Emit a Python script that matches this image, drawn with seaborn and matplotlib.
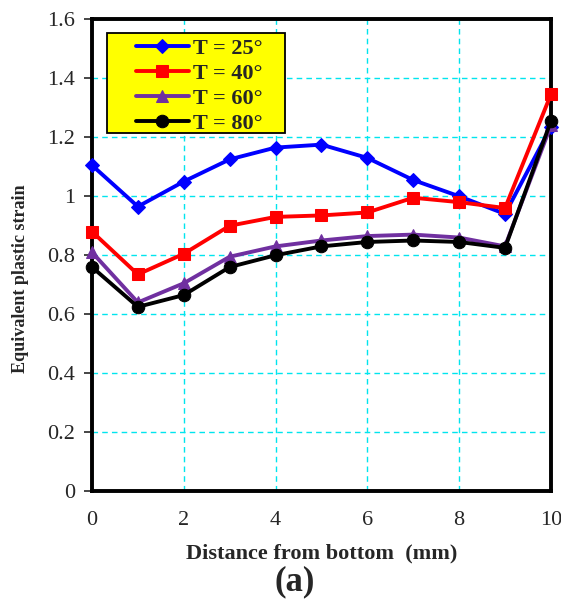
import numpy as np
import pandas as pd
import matplotlib
matplotlib.use("Agg")
import matplotlib.pyplot as plt
from matplotlib.patches import Rectangle
import seaborn as sns

distance = [0, 1, 2, 3, 4, 5, 6, 7, 8, 9, 10]
t25 = [1.105, 0.965, 1.05, 1.125, 1.165, 1.175, 1.13, 1.055, 1.0, 0.94, 1.235]
t40 = [0.88, 0.735, 0.805, 0.9, 0.93, 0.935, 0.945, 0.995, 0.98, 0.96, 1.345]
t60 = [0.81, 0.64, 0.705, 0.795, 0.83, 0.85, 0.865, 0.87, 0.86, 0.83, 1.24]
t80 = [0.76, 0.625, 0.665, 0.76, 0.80, 0.83, 0.845, 0.85, 0.845, 0.825, 1.255]
labels = ["T = 25°", "T = 40°", "T = 60°", "T = 80°"]

sns.set_style("white")
plt.rcParams['font.family'] = ['Liberation Serif', 'DejaVu Serif']

fig = plt.figure(figsize=(5.61, 6.02), dpi=100)
ax = fig.add_axes([0.164, 0.184, 0.818, 0.784])

series = [t25, t40, t60, t80]
colors = ["#0000FF", "#FF0000", "#7030A0", "#000000"]
markers = ["D", "s", "^", "o"]
msizes = [7, 9, 8, 9]
for vals, lab, c, m, ms in zip(series, labels, colors, markers, msizes):
    df = pd.DataFrame({"x": distance, "y": vals})
    sns.lineplot(data=df, x="x", y="y", ax=ax, color=c, marker=m, markersize=ms,
                 markeredgecolor=c, linewidth=2.8, label=lab, clip_on=False, zorder=3)

ax.set_xlim(0, 10)
ax.set_ylim(0, 1.6)
ax.set_xticks([0, 2, 4, 6, 8, 10])
ax.set_yticks([0, 0.2, 0.4, 0.6, 0.8, 1.0, 1.2, 1.4, 1.6])
ax.set_yticklabels(["0", "0.2", "0.4", "0.6", "0.8", "1", "1.2", "1.4", "1.6"])
ax.grid(True, color="#00E5EE", linestyle=(0, (4, 3)), linewidth=1.0)
ax.set_axisbelow(True)
for s in ax.spines.values():
    s.set_color("black")
    s.set_linewidth(2.8)
    s.set_zorder(2.5)
ax.tick_params(axis="y", direction="out", length=6, width=1.2, labelsize=16, left=True, pad=6)
ax.tick_params(axis="x", direction="out", length=0, labelsize=16, pad=14)
ax.set_xlabel("Distance from bottom  (mm)", fontsize=16, fontweight="bold", labelpad=10)
ax.set_ylabel("Equivalent plastic strain", fontsize=13, fontweight="bold")
ax.yaxis.set_label_coords(-0.138, 0.45)

# legend background box
box = Rectangle((0.033, 0.758), 0.387, 0.212, transform=ax.transAxes,
                facecolor="#FFFF00", edgecolor="black", linewidth=1.3, zorder=4)
ax.add_patch(box)
leg = ax.legend(loc="upper left", bbox_to_anchor=(0.061, 0.993), frameon=False,
                prop={"weight": "bold", "size": 16}, handlelength=2.4,
                borderpad=0.2, labelspacing=0.2, handletextpad=0.2)
leg.set_zorder(5)

fig.text(0.525, 0.033, "(a)", ha="center", va="center", fontsize=25, fontweight="bold")

fig.savefig("out.png", dpi=100)
